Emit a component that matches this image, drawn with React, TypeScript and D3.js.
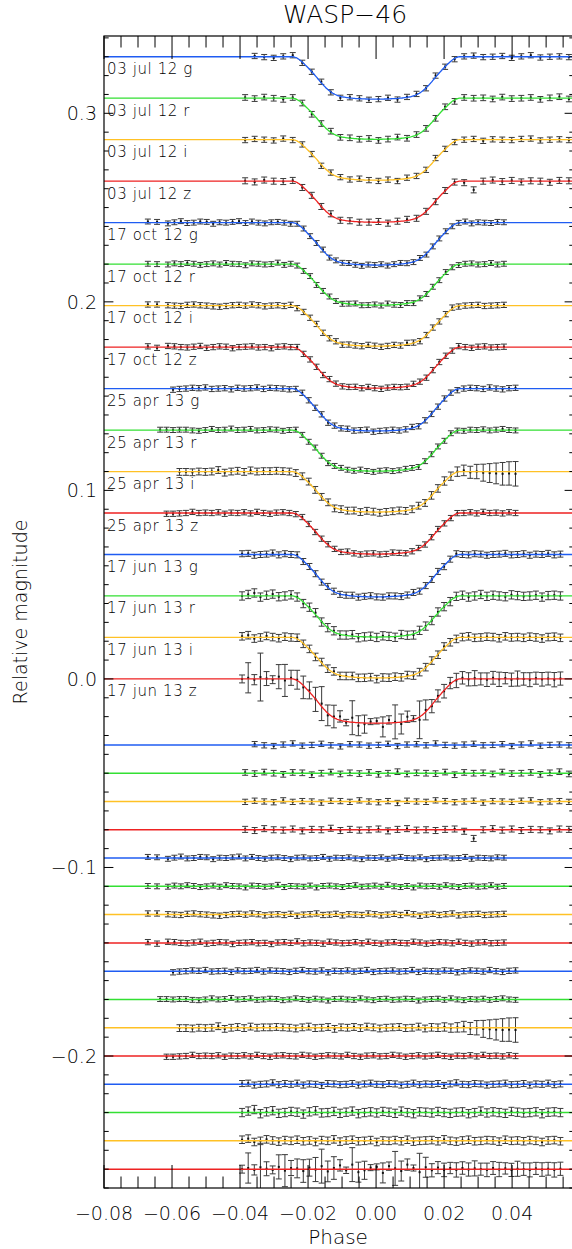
import React from "react";
import * as d3 from "d3";

// ---------------- DATA ----------------
const datasetLabels = [
  "03 jul 12 g", "03 jul 12 r", "03 jul 12 i", "03 jul 12 z",
  "17 oct 12 g", "17 oct 12 r", "17 oct 12 i", "17 oct 12 z",
  "25 apr 13 g", "25 apr 13 r", "25 apr 13 i", "25 apr 13 z",
  "17 jun 13 g", "17 jun 13 r", "17 jun 13 i", "17 jun 13 z",
];
const datasetFilters = ["g", "r", "i", "z", "g", "r", "i", "z", "g", "r", "i", "z", "g", "r", "i", "z"];
const lightCurveOffsets = [0.33, 0.308, 0.286, 0.264, 0.242, 0.22, 0.198, 0.176, 0.154, 0.132, 0.11, 0.088, 0.066, 0.044, 0.022, 0.0];
const residualOffsets = [-0.035, -0.05, -0.065, -0.08, -0.095, -0.11, -0.125, -0.14, -0.155, -0.17, -0.185, -0.2, -0.215, -0.23, -0.245, -0.26];
const transitDepths = [0.0225, 0.0218, 0.0215, 0.0218, 0.0225, 0.0218, 0.0215, 0.0218, 0.0225, 0.0218, 0.0215, 0.0218, 0.0225, 0.0218, 0.0215, 0.0235];
const datasetNight = [0, 0, 0, 0, 1, 1, 1, 1, 2, 2, 2, 2, 3, 3, 3, 3];
const datasetFirstPoint = [1, 0, 0, 0, 0, 0, 0, 0, 2, 0, 3, 1, 0, 0, 0, 0];

// transit model shape (fraction of depth) vs phase
const modelPhase = [-0.08, -0.0245, -0.0235, -0.0225, -0.0215, -0.0205, -0.0195, -0.0185, -0.0175, -0.0165, -0.0155, -0.0145, -0.0135, -0.0125, -0.0115, -0.010, -0.008, -0.006, -0.003, 0,
  0.003, 0.006, 0.008, 0.010, 0.0115, 0.0125, 0.0135, 0.0145, 0.0155, 0.0165, 0.0175, 0.0185, 0.0195, 0.0205, 0.0215, 0.0225, 0.0235, 0.0245, 0.07];
const modelShape = [0, 0, 0.02, 0.07, 0.14, 0.22, 0.30, 0.39, 0.48, 0.58, 0.67, 0.75, 0.82, 0.87, 0.91, 0.945, 0.97, 0.985, 0.996, 1.0,
  0.996, 0.985, 0.97, 0.945, 0.91, 0.87, 0.82, 0.75, 0.67, 0.58, 0.48, 0.39, 0.30, 0.22, 0.14, 0.07, 0.02, 0, 0];

// binned phases per night
const phasesJul12 = [-0.0385, -0.0357, -0.0329, -0.0301, -0.0273, -0.0245, -0.0217, -0.0189, -0.0161, -0.0133, -0.0105, -0.0077, -0.0049, -0.0021, 0.0007, 0.0035, 0.0063, 0.0091, 0.0119, 0.0147, 0.0175, 0.0203, 0.0231, 0.0259, 0.0287, 0.0315, 0.0343, 0.0371, 0.0399, 0.0427, 0.0455, 0.0483, 0.0511, 0.0539, 0.0567, 0.0595];
const phasesOct12 = [-0.0671, -0.0644, -0.0612, -0.0593, -0.0574, -0.0555, -0.0536, -0.0517, -0.0498, -0.0479, -0.0460, -0.0441, -0.0422, -0.0403, -0.0384, -0.0365, -0.0346, -0.0327, -0.0308, -0.0289, -0.0270, -0.0251, -0.0232, -0.0213, -0.0194, -0.0175, -0.0156, -0.0137, -0.0118, -0.0099, -0.0080, -0.0061, -0.0042, -0.0023, -0.0004, 0.0015, 0.0034, 0.0053, 0.0072, 0.0091, 0.0110, 0.0129, 0.0148, 0.0167, 0.0186, 0.0205, 0.0224, 0.0243, 0.0262, 0.0281, 0.0300, 0.0319, 0.0338, 0.0357, 0.0376];
const phasesApr13 = [-0.0635, -0.0616, -0.0597, -0.0578, -0.0559, -0.0540, -0.0521, -0.0502, -0.0483, -0.0464, -0.0445, -0.0426, -0.0407, -0.0388, -0.0369, -0.0350, -0.0331, -0.0312, -0.0293, -0.0274, -0.0255, -0.0236, -0.0217, -0.0198, -0.0179, -0.0160, -0.0141, -0.0122, -0.0103, -0.0084, -0.0065, -0.0046, -0.0027, -0.0008, 0.0011, 0.0030, 0.0049, 0.0068, 0.0087, 0.0106, 0.0125, 0.0144, 0.0163, 0.0182, 0.0201, 0.0220, 0.0239, 0.0258, 0.0277, 0.0296, 0.0315, 0.0334, 0.0353, 0.0372, 0.0391, 0.0410];
const phasesJun13 = [-0.0394, -0.0376, -0.0358, -0.0340, -0.0322, -0.0304, -0.0286, -0.0268, -0.0250, -0.0232, -0.0214, -0.0196, -0.0178, -0.0160, -0.0142, -0.0124, -0.0106, -0.0088, -0.0070, -0.0052, -0.0034, -0.0016, 0.0002, 0.0020, 0.0038, 0.0056, 0.0074, 0.0092, 0.0110, 0.0128, 0.0146, 0.0164, 0.0182, 0.0200, 0.0218, 0.0236, 0.0254, 0.0272, 0.0290, 0.0308, 0.0326, 0.0344, 0.0362, 0.0380, 0.0398, 0.0416, 0.0434, 0.0452, 0.0470, 0.0488, 0.0506, 0.0524, 0.0542];

// residuals (units of RES_UNIT mag)
const RES_UNIT = 2e-4;
const resJul12g = [0, 2, -1, -3, 1, 4, -2, 0, 3, -1, -4, 2, 1, -2, 0, 3, -3, 1, 2, -1, 4, 0, -2, 1, 3, -1, 0, 2, -3, 1, 4, -2, 0, 1, -1, 2];
const resJul12r = [2, -1, 3, 0, -3, 2, 1, -4, 0, 3, -2, 1, -1, 2, -3, 0, 4, -2, 1, 0, -1, 3, -4, 2, 0, 1, -2, 3, -1, 0, 2, -3, 1, 4, -2, 0];
const resJul12i = [-1, 2, 0, -2, 3, -1, 1, 0, -3, 2, 1, -1, 3, 0, -2, 1, -4, 2, 0, -1, 3, 1, -2, 0, 2, -3, 1, 0, -1, 2, 3, -2, 0, 1, -1, 2];
const resJul12z = [1, -2, 3, 0, -1, 2, -3, 1, 0, 4, -2, 1, -1, 0, 2, -3, 1, 3, -1, 0, -2, 1, 2, -4, -23, 0, 3, -1, 2, -2, 1, 0, -3, 2, 1, -1];
const resOct12g = [3, 2, -2, 1, 4, -1, 0, 3, 2, -3, 1, 0, 2, 4, -1, 3, 0, -2, 1, 2, 0, -3, 1, 2, -1, 0, 3, -2, 1, 0, 2, -1, -3, 1, 0, 2, -2, 1, 3, 0, -1, 2, -3, 0, 1, 2, -1, 0, 3, -2, 1, 0, -1, 2, 1];
const resOct12r = [1, 0, -1, 2, 0, 3, 1, -2, 0, 2, -1, 3, 1, 0, -3, 2, 1, -1, 0, 4, -2, 1, 0, -1, 2, -3, 1, 2, 0, -2, 1, 3, -1, 0, 2, -1, 4, 0, -2, 1, -3, 2, 0, 1, -1, 3, 0, -2, 1, 2, -1, 0, 3, -1, 1];
const resOct12i = [3, 3, 1, 0, -1, 2, 3, 1, 0, -2, -3, -1, 1, 2, 0, 3, 1, -2, 0, 1, -1, 2, -3, 0, 1, 3, -1, 0, 2, -2, 1, 0, -1, 3, 1, -2, 0, 2, -1, 4, 1, -3, 0, 2, -1, 1, 3, -2, 0, 1, 2, -1, 0, 1, 2];
const resOct12z = [2, -2, 3, 2, 0, -1, 1, 3, -2, 0, 2, 1, -3, 0, 1, 2, -1, 0, -3, 1, 2, 0, 4, -1, 1, 0, -2, 3, 1, -1, 0, 2, -1, 3, 0, -2, 1, 2, 0, -1, 3, 1, -2, 0, 2, 1, -1, 3, 0, -2, 1, 2, -1, 0, 1];
const resApr13g = [3, 3, -3, -1, 0, 2, 1, 3, -1, 0, 1, -2, 2, 0, 1, 3, -1, 2, 1, 0, -2, 1, 3, 0, -1, 2, -3, 1, 0, 2, -1, 1, 3, -2, 0, 1, 2, -1, 0, 3, -2, 1, 0, -1, 2, 1, -3, 0, 2, 1, -1, 3, 0, -2, 1, 2];
const resApr13r = [1, 1, 0, 1, 1, -1, -2, 0, 3, 0, 1, 4, 0, 1, 3, -1, 0, 2, 1, -2, 0, 3, 1, -1, 2, 0, -3, 1, 2, 0, -1, 3, 0, -2, 1, 2, -1, 0, 2, 1, -3, 0, 1, 2, -1, 3, 0, -2, 1, 0, 2, -1, 1, 3, 0, -1];
const resApr13i = [0, 0, 0, -1, -1, -2, 0, -1, 0, 4, -3, 0, 2, -1, 3, 0, 1, 1, 2, 1, 0, -2, 1, 3, -1, 0, 2, -3, 1, 0, 2, -1, 3, 1, -2, 0, 1, 2, -1, 0, 3, -2, 1, 0, 2, -1, 1, 3, -2, 0, -3, -4, -5, -6, -5, -6];
const resApr13z = [-2, -2, -2, -1, 0, 3, 0, 1, 0, 2, -2, 1, 0, 2, -1, 3, 0, -2, 1, 2, 0, -1, 3, 1, -2, 0, 2, 1, -1, 3, 0, -2, 1, 2, -1, 0, 3, 1, -2, 0, 2, -1, 1, 3, 0, -2, 1, 0, 2, -1, 3, 0, 1, -1, 2, 0];
const resJun13g = [2, 3, -2, 0, 1, 4, -1, 2, 0, 3, -2, 1, 0, -3, 2, 1, -1, 0, 2, -2, 1, 3, 0, -1, 2, 1, -2, 0, 3, -1, 1, 0, 2, -3, 1, 4, 0, -1, 2, 1, -2, 0, 1, 3, -1, 0, 2, -2, 1, 0, 3, -1, 1];
const resJun13r = [0, 4, 8, -3, 2, 5, -2, 0, 3, 1, -4, 2, 5, -1, 0, 3, -2, 1, 4, -3, 0, 2, -1, 3, 1, -2, 4, 0, -3, 2, 1, -1, 3, 0, -2, 1, 2, -3, 0, 4, -1, 2, 0, -2, 3, 1, -1, 0, 2, -3, 1, 2, 0];
const resJun13i = [3, 6, -3, 0, 4, 1, -2, 2, 0, 3, -1, 1, -3, 2, 0, 4, -2, 1, 3, -1, 0, 2, -3, 1, 0, 2, -1, 3, -2, 0, 1, 2, -1, 4, 0, -2, 1, 3, -1, 0, 2, 1, -2, 3, 0, 1, -1, 2, 0, -3, 1, 2, -1];
const resJun13z = [0, 3, -2, 5, 1, -2, 6, -4, 3, 2, -5, 4, -1, 8, -6, 3, 10, -3, 12, -8, -3, 4, 6, -10, 8, 2, -5, 12, 3, -8, 5, -3, 4, -2, 3, -2, 3, -1, 2, 0, -2, 3, -1, 2, -2, 1, 0, -2, 2, -1, 1, -2, 1];

// typical error (1e-4 mag) per dataset, plus explicit error lists for noisy ones
const typicalErrors = [14, 15, 14, 16, 13, 13, 14, 14, 14, 13, 18, 14, 16, 22, 20, 35];
const errApr13i = [18, 18, 18, 18, 18, 18, 18, 18, 18, 18, 18, 18, 18, 18, 18, 18, 18, 18, 18, 18, 18, 18, 18, 18, 18, 18, 18, 18, 18, 18, 18, 18, 18, 18, 18, 18, 18, 18, 18, 18, 18, 18, 20, 20, 22, 22, 25, 28, 32, 38, 45, 50, 55, 60, 62, 65];
const errJun13z = [21, 80, 27, 127, 37, 21, 64, 85, 40, 50, 60, 45, 64, 90, 55, 60, 30, 17, 90, 53, 48, 16, 16, 53, 22, 90, 53, 30, 16, 100, 53, 35, 32, 36, 30, 38, 33, 35, 40, 32, 36, 34, 38, 30, 35, 40, 33, 37, 32, 36, 34, 38, 35];

const nightPhases = [phasesJul12, phasesOct12, phasesApr13, phasesJun13];
const residuals = [resJul12g, resJul12r, resJul12i, resJul12z, resOct12g, resOct12r, resOct12i, resOct12z,
  resApr13g, resApr13r, resApr13i, resApr13z, resJun13g, resJun13r, resJun13i, resJun13z];
const errorLists: (number[] | null)[] = [null, null, null, null, null, null, null, null, null, null, errApr13i, null, null, null, null, errJun13z];

const xMajorTicks = [-0.08, -0.06, -0.04, -0.02, 0.0, 0.02, 0.04];
const yMajorTicks = [-0.2, -0.1, 0.0, 0.1, 0.2, 0.3];

// ---------------- STYLE / LAYOUT ----------------
const W = 572;
const H = 1249;
const L = 104, R = 574, T = 36, B = 1188;
const filterColors: Record<string, string> = { g: "#1f5cf2", r: "#33e033", i: "#ffc125", z: "#ee2222" };
const FONT = "'DejaVu Sans', sans-serif";
const TEXT_COL = "#000";

const fmt = (v: number, d: number) => {
  const s = Math.abs(v) < 1e-9 ? (0).toFixed(d) : v.toFixed(d);
  return s.replace("-", "\u2212");
};

export default function App() {
  const x = d3.scaleLinear().domain([-0.08, 0.0582]).range([L, R]);
  const y = d3.scaleLinear().domain([-0.27, 0.341]).range([B, T]);
  const shape = d3.scaleLinear().domain(modelPhase).range(modelShape).clamp(true);
  const modelFine = d3.range(-0.08, 0.0601, 0.0005);

  const line = d3.line<[number, number]>().x((d) => x(d[0])).y((d) => y(d[1])).curve(d3.curveMonotoneX);

  const points: React.ReactNode[] = [];
  const lines: React.ReactNode[] = [];

  datasetLabels.forEach((lab, i) => {
    const ph = nightPhases[datasetNight[i]];
    const res = residuals[i];
    const col = filterColors[datasetFilters[i]];
    const off = lightCurveOffsets[i];
    const roff = residualOffsets[i];
    const depth = transitDepths[i];
    const n = Math.min(ph.length, res.length);
    for (let k = datasetFirstPoint[i]; k < n; k++) {
      const p = ph[k];
      const r = res[k] * RES_UNIT;
      const el = errorLists[i];
      const e = (el && el[k] != null ? el[k] : typicalErrors[i]) * 1e-4;
      const vals = [off - depth * shape(p) + r, roff + r];
      vals.forEach((v, j) => {
        const cx = x(p);
        const y1 = y(v + e);
        const y2 = y(v - e);
        points.push(
          <g key={`p${i}-${k}-${j}`}>
            <line x1={cx} x2={cx} y1={y1} y2={y2} />
            <line x1={cx - 3} x2={cx + 3} y1={y1} y2={y1} />
            <line x1={cx - 3} x2={cx + 3} y1={y2} y2={y2} />
            <rect x={cx - 1} y={y(v) - 1} width={2} height={2} fill="#111" stroke="none" />
          </g>
        );
      });
    }
    const modelPts: [number, number][] = modelFine.map((p) => [p, off - depth * shape(p)]);
    lines.push(<path key={`m${i}`} d={line(modelPts) || ""} fill="none" stroke={col} strokeWidth={1.3} />);
    lines.push(
      <line key={`r${i}`} x1={x(-0.08)} x2={x(0.06)} y1={y(roff)} y2={y(roff)} stroke={col} strokeWidth={1.5} />
    );
  });

  // ticks
  const xMinor = d3.range(-0.08, 0.0585, 0.005);
  const yMinor = d3.range(-0.27, 0.3415, 0.01);

  return (
    <svg width={W} height={H} style={{ position: "absolute", left: 0, top: 0, display: "block", background: "#fff" }}
      fontFamily={FONT} fontWeight={200}>
      <defs>
        <clipPath id="plotclip">
          <rect x={L} y={T} width={R - L} height={B - T} />
        </clipPath>
      </defs>
      <g clipPath="url(#plotclip)">
        <g stroke="#3a3a3a" strokeWidth={1}>{points}</g>
        {lines}
      </g>
      {/* frame */}
      <rect x={L} y={T} width={R - L} height={B - T} fill="none" stroke="#000" strokeWidth={1.2} />
      <g stroke="#000" strokeWidth={1}>
        {xMinor.map((v, i) => {
          const major = xMajorTicks.some((m) => Math.abs(m - v) < 1e-6);
          const len = major ? 23 : 11.5;
          return (
            <g key={`xt${i}`}>
              <line x1={x(v)} x2={x(v)} y1={B} y2={B - len} />
              <line x1={x(v)} x2={x(v)} y1={T} y2={T + len} />
            </g>
          );
        })}
        {yMinor.map((v, i) => {
          const major = yMajorTicks.some((m) => Math.abs(m - v) < 1e-6);
          const len = major ? 9.4 : 4.7;
          return (
            <g key={`yt${i}`}>
              <line x1={L} x2={L + len} y1={y(v)} y2={y(v)} />
              <line x1={R} x2={R - len} y1={y(v)} y2={y(v)} />
            </g>
          );
        })}
      </g>
      {/* tick labels */}
      {xMajorTicks.map((v, i) => (
        <text key={`xl${i}`} x={x(v)} y={1220} textAnchor="middle" fontSize={19} fill={TEXT_COL}>{fmt(v, 2)}</text>
      ))}
      {yMajorTicks.map((v, i) => (
        <text key={`yl${i}`} x={97} y={y(v) + 7} textAnchor="end" fontSize={19} fill={TEXT_COL}>{fmt(v, 1)}</text>
      ))}
      {/* dataset labels */}
      {datasetLabels.map((lab, i) => (
        <text key={`dl${i}`} x={107} y={y(lightCurveOffsets[i]) + 17.5} fontSize={15} letterSpacing={0.6} fill={TEXT_COL}>{lab}</text>
      ))}
      {/* titles */}
      <text x={345} y={23} textAnchor="middle" fontSize={25} fill={TEXT_COL}>WASP{"\u2212"}46</text>
      <text x={338} y={1244} textAnchor="middle" fontSize={20} fill={TEXT_COL}>Phase</text>
      <text transform="translate(27,612) rotate(-90)" textAnchor="middle" fontSize={19} fill={TEXT_COL}>Relative magnitude</text>
    </svg>
  );
}
